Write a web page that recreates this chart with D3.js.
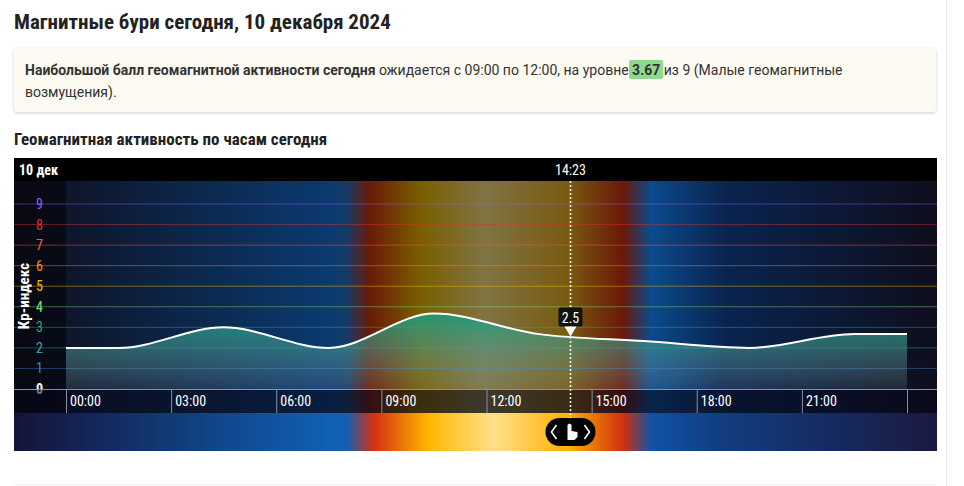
<!DOCTYPE html>
<html><head><meta charset="utf-8">
<script src="https://cdn.jsdelivr.net/npm/d3@7"></script>
<style>
body{margin:0;background:#fff;font-family:Roboto,sans-serif;}
.nar{font-family:"Liberation Sans Narrow","Roboto Condensed",Roboto,sans-serif;}
</style></head><body>
<svg id="c" width="964" height="486"></svg>
<script>
// 3-hour Kp values, plotted at the middle of each interval
const hours = [1.5, 4.5, 7.5, 10.5, 13.5, 16.5, 19.5, 22.5];
const kp = [2, 3, 2, 3.67, 2.67, 2.33, 2, 2.67];
const tickHours = [0, 3, 6, 9, 12, 15, 18, 21, 24];
const levels = [0, 1, 2, 3, 4, 5, 6, 7, 8, 9];
const levelColors = ['#ffffff', '#3a86d6', '#3aa6a6', '#1fb08e', '#7ee07e', '#ffc000', '#ff8c1a', '#ff5a4a', '#e03030', '#9a5cff'];
const nowHour = 14 + 23 / 60, nowValue = 2.5;

const svg = d3.select('#c');
const x = d3.scaleLinear().domain([0, 24]).range([66, 907]);
const y = d3.scaleLinear().domain([0, 9]).range([389, 204]);

// header
svg.append('text').attr('class', 'nar').attr('x', 14).attr('y', 29).attr('font-size', 21).attr('font-weight', 700).attr('fill', '#222')
    .text('Магнитные бури сегодня, 10 декабря 2024');
const defs = svg.append('defs');
defs.append('filter').attr('id', 'sh').html('<feDropShadow dx="0" dy="1" stdDeviation="1.5" flood-color="#000" flood-opacity="0.2"/>');
svg.append('rect').attr('x', 14).attr('y', 48).attr('width', 922).attr('height', 64).attr('rx', 4).attr('fill', '#fdfaf1').attr('filter', 'url(#sh)');
const hl = svg.append('rect').attr('y', 60).attr('height', 19).attr('rx', 2).attr('fill', '#8fd88f');
const t1 = svg.append('text').attr('x', 25).attr('y', 75).attr('font-size', 14).attr('fill', '#333');
t1.append('tspan').attr('font-weight', 700).text('Наибольшой балл геомагнитной активности сегодня');
t1.append('tspan').text(' ожидается с 09:00 по 12:00, на уровне ');
const val = t1.append('tspan').attr('font-weight', 700).text('3.67');
t1.append('tspan').text(' из 9 (Малые геомагнитные');
const vn = val.node();
hl.attr('x', vn.getStartPositionOfChar(0).x - 3).attr('width', vn.getComputedTextLength() + 6);
svg.append('text').attr('x', 25).attr('y', 97).attr('font-size', 14).attr('fill', '#333').text('возмущения).');
svg.append('text').attr('class', 'nar').attr('x', 14).attr('y', 145).attr('font-size', 17).attr('font-weight', 700).attr('fill', '#222')
    .text('Геомагнитная активность по часам сегодня');

// sky gradients (night / sunrise / day / sunset)
const skyStops = [[0, '#0e0e1c'], [0.34, '#0b3a70'], [0.36, '#143c6a'], [0.385, '#6a1a08'], [0.44, '#7a5e00'], [0.51, '#7f7444'], [0.6, '#7a5a10'], [0.66, '#6a1808'], [0.69, '#0b4a8c'], [0.77, '#0a2450'], [1, '#0e0e1c']];
const bandStops = [[0, '#14143a'], [0.34, '#1060b4'], [0.36, '#1060b4'], [0.39, '#d63010'], [0.45, '#ffb800'], [0.52, '#ffe08a'], [0.6, '#ffb000'], [0.66, '#d03010'], [0.69, '#1052a4'], [0.77, '#123c80'], [1, '#1a1a40']];
function hgrad(id, stops) {
    const g = defs.append('linearGradient').attr('id', id).attr('x1', 0).attr('x2', 1).attr('y1', 0).attr('y2', 0);
    stops.forEach(s => g.append('stop').attr('offset', s[0]).attr('stop-color', s[1]));
}
hgrad('sky', skyStops);
hgrad('band', bandStops);
const ag = defs.append('linearGradient').attr('id', 'area').attr('x1', 0).attr('x2', 0).attr('y1', 0).attr('y2', 1);
ag.append('stop').attr('offset', 0).attr('stop-color', '#12a080').attr('stop-opacity', 0.85);
ag.append('stop').attr('offset', 1).attr('stop-color', '#8aa0a8').attr('stop-opacity', 0.15);

svg.append('rect').attr('x', 14).attr('y', 181).attr('width', 923).attr('height', 232).attr('fill', 'url(#sky)');
svg.append('rect').attr('x', 14).attr('y', 181).attr('width', 52).attr('height', 232).attr('fill', '#05050c').attr('opacity', 0.6);
svg.append('rect').attr('x', 14).attr('y', 413).attr('width', 923).attr('height', 38).attr('fill', 'url(#band)');
svg.append('rect').attr('x', 14).attr('y', 158).attr('width', 923).attr('height', 23).attr('fill', '#000');

// grid lines and level labels
svg.selectAll('.gl').data(levels.slice(1)).enter().append('line')
    .attr('x1', 14).attr('x2', 937).attr('y1', d => y(d)).attr('y2', d => y(d))
    .attr('stroke', d => levelColors[d]).attr('stroke-opacity', 0.45);
svg.selectAll('.yl').data(levels).enter().append('text').attr('class', 'nar')
    .attr('x', 43).attr('y', d => y(d) + 5).attr('text-anchor', 'end').attr('font-size', 14)
    .attr('font-weight', d => d === 0 ? 700 : 400)
    .attr('fill', d => levelColors[d]).text(d => d);
svg.append('text').attr('class', 'nar').attr('transform', 'translate(29,296) rotate(-90)').attr('text-anchor', 'middle')
    .attr('font-size', 15).attr('font-weight', 700).attr('fill', '#fff').text('Кр-индекс');

// curve
const pts = [[0, kp[0]]].concat(hours.map((h, i) => [h, kp[i]]), [[24, kp[kp.length - 1]]]);
const area = d3.area().x(d => x(d[0])).y0(y(0)).y1(d => y(d[1])).curve(d3.curveMonotoneX);
const line = d3.line().x(d => x(d[0])).y(d => y(d[1])).curve(d3.curveMonotoneX);
svg.append('path').attr('d', area(pts)).attr('fill', 'url(#area)');
svg.append('path').attr('d', line(pts)).attr('fill', 'none').attr('stroke', '#fff').attr('stroke-width', 2);

// x axis
svg.append('rect').attr('x', 14).attr('y', 389).attr('width', 923).attr('height', 24).attr('fill', '#07071a').attr('opacity', 0.55);
svg.append('line').attr('x1', 14).attr('x2', 937).attr('y1', 389.5).attr('y2', 389.5).attr('stroke', '#8890a0');
svg.selectAll('.xt').data(tickHours).enter().append('line')
    .attr('x1', d => x(d) + 0.5).attr('x2', d => x(d) + 0.5).attr('y1', 389).attr('y2', 413).attr('stroke', '#8890a0');
svg.selectAll('.xl').data(tickHours.slice(0, -1)).enter().append('text').attr('class', 'nar')
    .attr('x', d => x(d) + 4).attr('y', 406).attr('font-size', 14).attr('fill', '#fff')
    .text(d => String(d).padStart(2, '0') + ':00');
svg.append('text').attr('class', 'nar').attr('x', 19).attr('y', 175).attr('font-size', 14).attr('font-weight', 700).attr('fill', '#fff').text('10 дек');

// current time marker
const nx = Math.round(x(nowHour)) + 0.5;
svg.append('line').attr('x1', nx).attr('x2', nx).attr('y1', 181).attr('y2', 425).attr('stroke', '#fff').attr('stroke-width', 1.5).attr('stroke-dasharray', '2,2');
svg.append('text').attr('class', 'nar').attr('x', nx).attr('y', 175).attr('text-anchor', 'middle').attr('font-size', 14).attr('fill', '#fff').text('14:23');
const vy = y(nowValue);
svg.append('rect').attr('x', nx - 12).attr('y', vy - 30).attr('width', 24).attr('height', 19).attr('rx', 2).attr('fill', '#111');
svg.append('text').attr('class', 'nar').attr('x', nx).attr('y', vy - 15).attr('text-anchor', 'middle').attr('font-size', 14).attr('fill', '#fff').text(nowValue);
svg.append('path').attr('d', `M${nx - 6},${vy - 11}L${nx + 6},${vy - 11}L${nx},${vy - 1}Z`).attr('fill', '#fff');
svg.append('rect').attr('x', nx - 25).attr('y', 418).attr('width', 50).attr('height', 28).attr('rx', 14).attr('fill', '#000');
svg.append('path').attr('d', `M${nx - 14},${425}L${nx - 19},${432}L${nx - 14},${439}M${nx + 14},${425}L${nx + 19},${432}L${nx + 14},${439}`)
    .attr('fill', 'none').attr('stroke', '#fff').attr('stroke-width', 1.6);
svg.append('path').attr('d', `M${nx - 3},${440}L${nx - 3},${425}Q${nx - 1},${422} ${nx + 1},${425}L${nx + 1},${431}L${nx + 7},${432}L${nx + 7},${437}L${nx + 4},${440}Z`).attr('fill', '#fff');

svg.append('line').attr('x1', 946.5).attr('x2', 946.5).attr('y1', 0).attr('y2', 486).attr('stroke', '#ececec');
svg.append('line').attr('x1', 14).attr('x2', 937).attr('y1', 484.5).attr('y2', 484.5).attr('stroke', '#f0f0f0');
</script></body></html>
